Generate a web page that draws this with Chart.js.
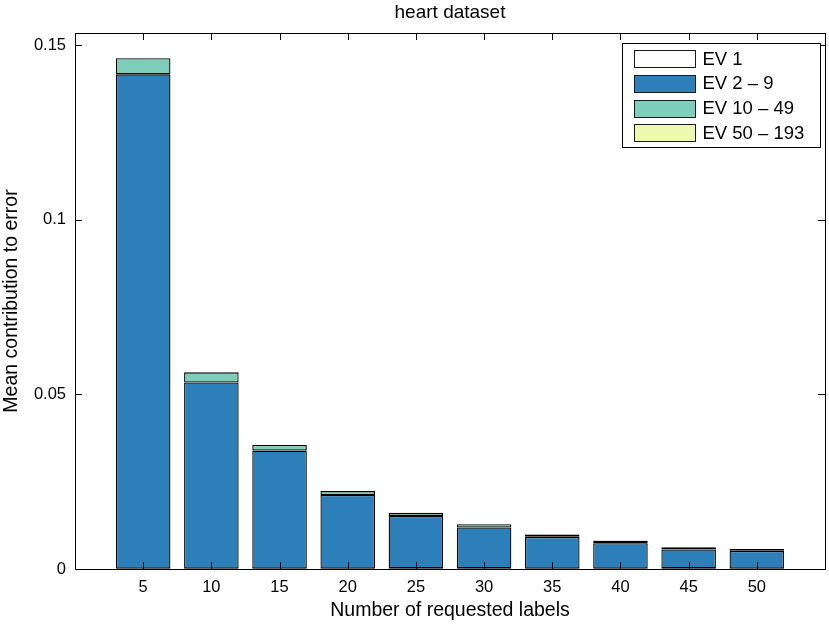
<!DOCTYPE html>
<html>
<head>
<meta charset="utf-8">
<script src="https://cdn.jsdelivr.net/npm/chart.js@4/dist/chart.umd.min.js"></script>
<style>
  html, body { margin: 0; padding: 0; background: #fff; }
  #wrap { width: 829px; height: 625px; }
</style>
</head>
<body>
<div id="wrap"><canvas id="c" width="829" height="625"></canvas></div>
<script>
// ---- data ----
const categories = [5, 10, 15, 20, 25, 30, 35, 40, 45, 50];
const seriesNames = ['EV 1', 'EV 2 \u2013 9', 'EV 10 \u2013 49', 'EV 50 \u2013 193'];
const ev1      = [0.0001, 0.0001, 0.0001, 0.0001, 0.0002, 0.0002, 0.0001, 0.0001, 0.0002, 0.0001];
const ev2to9   = [0.1415, 0.0533, 0.0338, 0.0211, 0.0150, 0.0117, 0.0091, 0.0073, 0.0054, 0.0051];
const ev10to49 = [0.0046, 0.0029, 0.0016, 0.0011, 0.0009, 0.0009, 0.0007, 0.0007, 0.0006, 0.0005];
const ev50to193 = [0.00003, 0.00003, 0.00003, 0.00003, 0.00003, 0.00003, 0.00003, 0.00003, 0.00003, 0.00003];
const yTickValues = [0, 0.05, 0.1, 0.15];
const yTickLabels = ['0', '0.05', '0.1', '0.15'];
const xTickLabels = ['5', '10', '15', '20', '25', '30', '35', '40', '45', '50'];

const colors = ['#ffffff', '#2c7fb8', '#7fcdbb', '#edf8b1'];
const seriesValues = [ev1, ev2to9, ev10to49, ev50to193];

const FONT = "'Liberation Sans', Arial, Helvetica, sans-serif";

const datasets = seriesValues.map((vals, i) => ({
  label: seriesNames[i],
  data: categories.map((c, j) => ({ x: c, y: vals[j] })),
  backgroundColor: colors[i],
  borderColor: '#000',
  borderWidth: 1.3,
  borderSkipped: false,
  barPercentage: 0.8,
  categoryPercentage: 1.0
}));

// frame with inward ticks (MATLAB style)
const framePlugin = {
  id: 'frame',
  afterDatasetsDraw(chart) {
    const { ctx, chartArea: a, scales: { x, y } } = chart;
    ctx.save();
    ctx.strokeStyle = '#000';
    ctx.lineWidth = 1;
    ctx.beginPath();
    x.ticks.forEach(t => {
      const px = Math.round(x.getPixelForValue(t.value)) + 0.5;
      ctx.moveTo(px, a.bottom); ctx.lineTo(px, a.bottom - 7);
      ctx.moveTo(px, a.top); ctx.lineTo(px, a.top + 7);
    });
    y.ticks.forEach(t => {
      const py = Math.round(y.getPixelForValue(t.value)) + 0.5;
      ctx.moveTo(a.left, py); ctx.lineTo(a.left + 7, py);
      ctx.moveTo(a.right, py); ctx.lineTo(a.right - 7, py);
    });
    ctx.stroke();
    ctx.strokeRect(Math.round(a.left) + 0.5, Math.round(a.top) + 0.5,
                   Math.round(a.right - a.left), Math.round(a.bottom - a.top));
    ctx.restore();
  }
};

// legend box inside plot, top-right
const legendPlugin = {
  id: 'boxLegend',
  afterDraw(chart) {
    const { ctx, chartArea: a } = chart;
    const w = 198, h = 104;
    const left = Math.round(a.right - 5 - w) + 0.5;
    const top = Math.round(a.top + 10) + 0.5;
    ctx.save();
    ctx.fillStyle = '#fff';
    ctx.fillRect(left, top, w, h);
    ctx.strokeStyle = '#000';
    ctx.lineWidth = 1;
    ctx.strokeRect(left, top, w, h);
    ctx.font = "18.5px " + FONT;
    ctx.textBaseline = 'middle';
    ctx.textAlign = 'left';
    chart.data.datasets.forEach((ds, i) => {
      const cy = top + 15 + i * 24.8;
      ctx.fillStyle = ds.backgroundColor;
      ctx.fillRect(left + 12, Math.round(cy - 8.5), 61, 17);
      ctx.strokeStyle = '#1a1a1a';
      ctx.strokeRect(left + 12, Math.round(cy - 8.5) + 0.5, 61, 17);
      ctx.fillStyle = '#000';
      ctx.fillText(ds.label, left + 80, cy + 1);
    });
    ctx.restore();
  }
};

new Chart(document.getElementById('c'), {
  type: 'bar',
  data: { datasets },
  plugins: [framePlugin, legendPlugin],
  options: {
    responsive: false,
    animation: false,
    events: [],
    layout: { padding: { left: 0, right: 4, top: 0, bottom: 0 } },
    plugins: {
      legend: { display: false },
      tooltip: { enabled: false },
      title: {
        display: true,
        text: 'heart dataset',
        fullSize: false,
        color: '#000',
        font: { family: FONT, size: 19, weight: 'normal', lineHeight: 1.2 },
        padding: { top: 1, bottom: 9.2 }
      }
    },
    scales: {
      x: {
        type: 'linear',
        stacked: true,
        offset: false,
        min: 0,
        max: 55,
        grid: { display: false, drawTicks: false },
        border: { display: false },
        afterBuildTicks: s => { s.ticks = categories.map(v => ({ value: v })); },
        afterFit: s => { s.height = 56; },
        ticks: {
          color: '#000',
          padding: 9,
          maxRotation: 0,
          autoSkip: false,
          font: { family: FONT, size: 16.5 },
          callback: (v) => xTickLabels[categories.indexOf(v)]
        },
        title: {
          display: true,
          text: 'Number of requested labels',
          color: '#000',
          font: { family: FONT, size: 19.5 },
          padding: { top: 4, bottom: 3 }
        }
      },
      y: {
        type: 'linear',
        stacked: true,
        min: 0,
        max: 0.15344,
        grid: { display: false, drawTicks: false },
        border: { display: false },
        afterBuildTicks: s => { s.ticks = yTickValues.map(v => ({ value: v })); },
        afterFit: s => { s.width = 75; },
        ticks: {
          color: '#000',
          padding: 9,
          font: { family: FONT, size: 16.5 },
          callback: (v) => yTickLabels[yTickValues.indexOf(v)]
        },
        title: {
          display: true,
          text: 'Mean contribution to error',
          color: '#000',
          font: { family: FONT, size: 19.5 },
          padding: { top: 0, bottom: 0 }
        }
      }
    }
  }
});
</script>
</body>
</html>
